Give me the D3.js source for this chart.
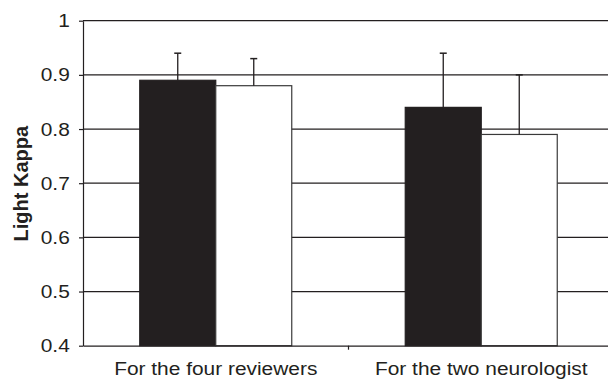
<!DOCTYPE html>
<html>
<head>
<meta charset="utf-8">
<script src="https://cdn.jsdelivr.net/npm/d3@7"></script>
<style>
  html, body { margin: 0; padding: 0; background: #fff; }
  svg { display: block; font-family: "Liberation Sans", Arial, sans-serif; }
</style>
</head>
<body>
<svg id="chart" width="608" height="380"></svg>
<script>
// Kappa agreement by reviewer group
const categories = ["For the four reviewers", "For the two neurologist"];
const seriesNames = ["A", "B"];
const seriesA = [0.89, 0.84];
const seriesB = [0.88, 0.79];
const errorsA = [0.05, 0.10];
const errorsB = [0.05, 0.11];
const yTicks = [0.4, 0.5, 0.6, 0.7, 0.8, 0.9, 1];
const yTickLabels = ["0.4", "0.5", "0.6", "0.7", "0.8", "0.9", "1"];
const yTitle = "Light Kappa";

const svg = d3.select("#chart");
const plotLeft = 83, plotRight = 614, plotTop = 20.7, plotBottom = 345.7;
const ink = "#231f20";

const x = d3.scaleBand().domain(categories).range([plotLeft, plotRight]).padding(0);
const xs = d3.scaleBand().domain(seriesNames).range([0, 152]).padding(0);
const y = d3.scaleLinear().domain([0.4, 1]).range([plotBottom, plotTop]);

const rows = categories.map((c, i) => ({
  cat: c,
  bars: [
    { s: "A", v: seriesA[i], e: errorsA[i] },
    { s: "B", v: seriesB[i], e: errorsB[i] }
  ]
}));

// Horizontal gridlines
svg.append("g").selectAll("line")
  .data(yTicks.filter(t => t > 0.4))
  .join("line")
  .attr("x1", plotLeft).attr("x2", plotRight)
  .attr("y1", d => y(d)).attr("y2", d => y(d))
  .attr("stroke", ink).attr("stroke-width", 1.2);

// Bars
const groups = svg.append("g").selectAll("g")
  .data(rows).join("g")
  .attr("transform", d => `translate(${x(d.cat) + x.bandwidth() / 2 - 76},0)`);

groups.selectAll("rect")
  .data(d => d.bars).join("rect")
  .attr("x", d => xs(d.s))
  .attr("width", xs.bandwidth())
  .attr("y", d => y(d.v))
  .attr("height", d => y(0.4) - y(d.v))
  .attr("fill", d => d.s === "A" ? ink : "#fff")
  .attr("stroke", d => d.s === "A" ? ink : "#3a3a3a")
  .attr("stroke-width", 1.2);

// Upper error bars
const err = groups.selectAll("g.err")
  .data(d => d.bars).join("g").attr("class", "err");
err.append("line")
  .attr("x1", d => xs(d.s) + xs.bandwidth() / 2)
  .attr("x2", d => xs(d.s) + xs.bandwidth() / 2)
  .attr("y1", d => y(d.v)).attr("y2", d => y(d.v + d.e))
  .attr("stroke", ink).attr("stroke-width", 1.3);
err.append("line")
  .attr("x1", d => xs(d.s) + xs.bandwidth() / 2 - 3.5)
  .attr("x2", d => xs(d.s) + xs.bandwidth() / 2 + 3.5)
  .attr("y1", d => y(d.v + d.e)).attr("y2", d => y(d.v + d.e))
  .attr("stroke", ink).attr("stroke-width", 1.5);

// Y axis
const yAxis = svg.append("g")
  .attr("transform", `translate(${plotLeft},0)`)
  .call(d3.axisLeft(y).tickValues(yTicks).tickFormat((d, i) => yTickLabels[i])
    .tickSizeInner(4).tickSizeOuter(0).tickPadding(8));
yAxis.select(".domain").attr("stroke", ink).attr("stroke-width", 1.2);
yAxis.selectAll(".tick line").attr("stroke", ink).attr("stroke-width", 1.2);
yAxis.selectAll(".tick text")
  .attr("font-size", 19).attr("fill", ink)
  .attr("font-family", "'Liberation Sans', Arial, sans-serif")
  .attr("transform", "scale(1.1,1)");

// X axis
const xAxis = svg.append("g")
  .attr("transform", `translate(0,${plotBottom})`)
  .call(d3.axisBottom(x).tickValues([]).tickSizeOuter(0));
xAxis.select(".domain").attr("stroke", ink).attr("stroke-width", 1.2);
// divider tick between the two categories
xAxis.append("line")
  .attr("x1", x(categories[1])).attr("x2", x(categories[1]))
  .attr("y1", 0).attr("y2", 4)
  .attr("stroke", ink).attr("stroke-width", 1.2);

// Category labels
svg.append("g").selectAll("text")
  .data(categories).join("text")
  .attr("transform", d => `translate(${x(d) + x.bandwidth() / 2},375) scale(1.1,1)`)
  .attr("text-anchor", "middle")
  .attr("font-size", 19)
  .attr("fill", ink)
  .text(d => d);

// Y axis title
svg.append("text")
  .attr("transform", `translate(28,${(plotTop + plotBottom) / 2 + 0.5}) rotate(-90)`)
  .attr("text-anchor", "middle")
  .attr("font-size", 20)
  .attr("font-weight", "bold")
  .attr("fill", ink)
  .text(yTitle);
</script>
</body>
</html>
